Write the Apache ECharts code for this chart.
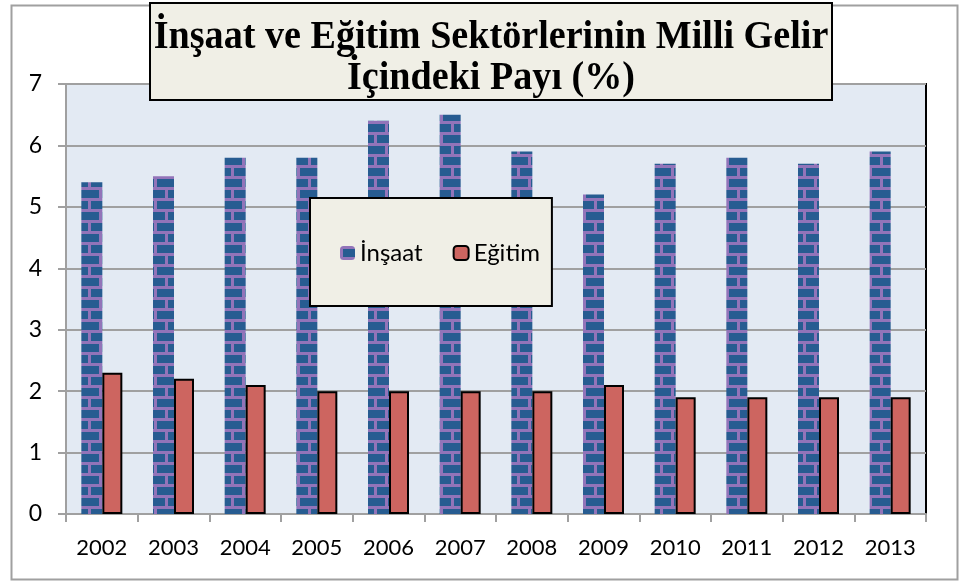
<!DOCTYPE html>
<html>
<head>
<meta charset="utf-8">
<script src="https://cdn.jsdelivr.net/npm/echarts@6/dist/echarts.min.js"></script>
<style>html,body{margin:0;padding:0;background:#fff;}#c{width:959px;height:581px;}</style>
</head>
<body>
<div id="c"></div>
<script>
const years = ['2002','2003','2004','2005','2006','2007','2008','2009','2010','2011','2012','2013'];
const insaat = [5.4, 5.5, 5.8, 5.8, 6.4, 6.5, 5.9, 5.2, 5.7, 5.8, 5.7, 5.9];
const egitim = [2.3, 2.2, 2.1, 2.0, 2.0, 2.0, 2.0, 2.1, 1.9, 1.9, 1.9, 1.9];
const seriesNames = ['İnşaat', 'Eğitim'];
const titleLines = ['İnşaat ve Eğitim Sektörlerinin Milli Gelir', 'İçindeki Payı (%)'];

function brick() {
  const c = document.createElement('canvas');
  c.width = 22; c.height = 22;
  const g = c.getContext('2d');
  g.fillStyle = '#275C91';
  g.fillRect(0, 0, 22, 22);
  g.fillStyle = '#9274B9';
  g.fillRect(0, 0, 22, 3);
  g.fillRect(0, 11, 22, 3);
  g.fillRect(0, 3, 3, 8);
  g.fillRect(11, 14, 3, 8);
  return c;
}

const chart = echarts.init(document.getElementById('c'), null, {renderer: 'canvas'});
const font = 'Lato, "Noto Sans", sans-serif';
const titleFont = 'bold 41px "Liberation Serif", "Times New Roman", serif';
chart.setOption({
  animation: false,
  backgroundColor: '#ffffff',
  grid: {left: 66, right: 33, top: 84, bottom: 67, show: true, backgroundColor: '#E3EAF3', borderColor: '#000', borderWidth: 2},
  xAxis: {
    type: 'category', data: years,
    axisLine: {lineStyle: {color: '#A0A0A0', width: 2}},
    axisTick: {show: true, length: 8, lineStyle: {color: '#A0A0A0', width: 2}},
    axisLabel: {color: '#000', fontSize: 22, fontFamily: font, margin: 23}
  },
  yAxis: {
    type: 'value', min: 0, max: 7, interval: 1,
    axisLine: {show: true, lineStyle: {color: '#A0A0A0', width: 2}},
    axisTick: {show: true, length: 8, lineStyle: {color: '#A0A0A0', width: 2}},
    splitLine: {lineStyle: {color: '#A0A0A0', width: 2}},
    axisLabel: {color: '#000', fontSize: 23, fontFamily: font, margin: 24}
  },
  legend: {
    data: seriesNames, left: 310, top: 198, orient: 'horizontal',
    padding: [43, 12, 41, 30], itemGap: 30, itemWidth: 15, itemHeight: 14,
    backgroundColor: '#F0EFE6', borderColor: '#000', borderWidth: 2,
    textStyle: {color: '#000', fontSize: 24, fontFamily: font}
  },
  series: [
    {name: seriesNames[0], type: 'bar', data: insaat, barWidth: 21, barGap: '0%',
     itemStyle: {color: {image: brick(), repeat: 'repeat'}}},
    {name: seriesNames[1], type: 'bar', data: egitim, barWidth: 20,
     itemStyle: {color: '#CD6560', borderColor: '#000', borderWidth: 2}}
  ],
  graphic: [
    {type: 'rect', left: 9, top: 3, z: -10, shape: {width: 946, height: 574}, style: {fill: 'none', stroke: '#A0A0A0', lineWidth: 2}, silent: true},
    {type: 'rect', z: 100, zlevel: 1, shape: {x: 150, y: 3, width: 682, height: 97}, style: {fill: '#F0EFE6', stroke: '#000', lineWidth: 2}},
    {type: 'text', z: 101, zlevel: 1, x: 491, y: 37, scaleX: 0.93, style: {text: titleLines[0], fill: '#000', font: titleFont, textAlign: 'center', textVerticalAlign: 'middle'}},
    {type: 'text', z: 101, zlevel: 1, x: 491, y: 78, scaleX: 0.93, style: {text: titleLines[1], fill: '#000', font: titleFont, textAlign: 'center', textVerticalAlign: 'middle'}}
  ]
});
</script>
</body>
</html>
